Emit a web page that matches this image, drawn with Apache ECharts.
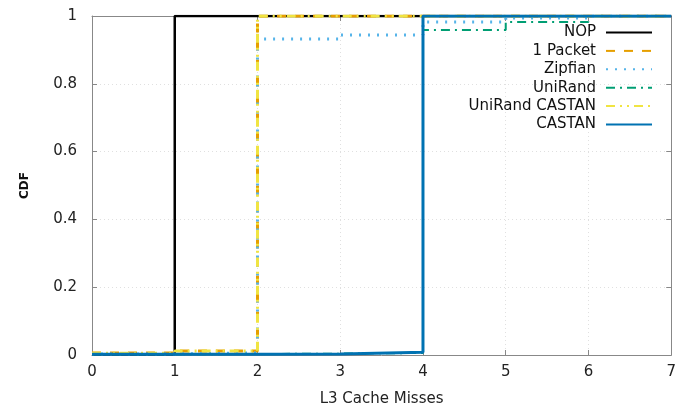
<!DOCTYPE html>
<html>
<head>
<meta charset="utf-8">
<script src="https://cdn.jsdelivr.net/npm/echarts@6/dist/echarts.min.js"></script>
<style>html,body{margin:0;padding:0;background:#fff}#c{width:679px;height:413px}</style>
</head>
<body>
<div id="c"></div>
<script>
const xs = [0, 1, 2, 3, 4, 5, 6, 7];
const yTicks = [0, 0.2, 0.4, 0.6, 0.8, 1];
const seriesNames = ['NOP', '1 Packet', 'Zipfian', 'UniRand', 'UniRand CASTAN', 'CASTAN'];
const nop = [0.002, 1, 1, 1, 1, 1, 1, 1];
const onePacket = [0.006, 0.012, 1, 1, 1, 1, 1, 1];
const zipfian = [0.003, 0.006, 0.932, 0.944, 0.982, 0.994, 1, 1];
const uniRand = [0.002, 0.003, 0.004, 0.006, 0.959, 0.982, 1, 1];
const uniRandCastan = [0.005, 0.012, 1, 1, 1, 1, 1, 1];
const castan = [0.002, 0.002, 0.003, 0.008, 1, 1, 1, 1];

const values = [nop, onePacket, zipfian, uniRand, uniRandCastan, castan];
const colors = ['#000000', '#e69f00', '#56b4e9', '#009e73', '#f0e442', '#0072b2'];
const dashes = ['solid', [9, 9], [2, 7], [9, 5, 2, 5], [9, 5, 2, 5, 2, 5], 'solid'];
const widths = [2.5, 3, 3, 2, 3, 3];

const font = 'DejaVu Sans';
const chart = echarts.init(document.getElementById('c'));
chart.setOption({
  animation: false,
  textStyle: { fontFamily: font },
  grid: { left: 92, right: 5, top: 16, bottom: 58 },
  legend: {
    orient: 'vertical', right: 21, top: 20, align: 'right',
    itemWidth: 46, itemHeight: 14, itemGap: 3.4,
    itemStyle: { opacity: 0 },
    textStyle: { fontSize: 15, color: '#111', fontFamily: font, padding: [0, 5, 0, 0] },
    data: seriesNames
  },
  xAxis: [{
    type: 'value', min: 0, max: 7, interval: 1,
    name: 'L3 Cache Misses', nameLocation: 'middle', nameGap: 37,
    nameTextStyle: { fontSize: 15, color: '#222' },
    axisLine: { show: true, lineStyle: { color: '#888' } },
    axisTick: { inside: true, length: 5, lineStyle: { color: '#888' } },
    axisLabel: { fontSize: 15, color: '#222', margin: 10 },
    splitLine: { show: true, lineStyle: { color: '#e0e0e0', type: [1, 3] } }
  }, {
    type: 'value', min: 0, max: 7, interval: 1, position: 'top',
    axisLine: { show: true, onZero: false, lineStyle: { color: '#888' } },
    axisTick: { inside: true, length: 5, lineStyle: { color: '#888' } },
    axisLabel: { show: false }, splitLine: { show: false }
  }],
  yAxis: [{
    type: 'value', min: 0, max: 1, interval: 0.2,
    name: 'CDF', nameLocation: 'middle', nameGap: 61, nameRotate: 90,
    nameTextStyle: { fontSize: 12, color: '#111', fontWeight: 'bold' },
    axisLine: { show: true, lineStyle: { color: '#888' } },
    axisTick: { inside: true, length: 5, lineStyle: { color: '#888' } },
    axisLabel: { fontSize: 15, color: '#222', margin: 15 },
    splitLine: { show: true, lineStyle: { color: '#e0e0e0', type: [1, 3] } }
  }, {
    type: 'value', min: 0, max: 1, interval: 0.2, position: 'right',
    axisLine: { show: true, onZero: false, lineStyle: { color: '#888' } },
    axisTick: { inside: true, length: 5, lineStyle: { color: '#888' } },
    axisLabel: { show: false }, splitLine: { show: false }
  }],
  series: seriesNames.map((n, i) => ({
    name: n, type: 'line', step: 'end', showSymbol: false, symbol: 'none',
    xAxisIndex: 0, yAxisIndex: 0,
    data: xs.map((x, j) => [x, values[i][j]]),
    lineStyle: { color: colors[i], width: widths[i], type: dashes[i] },
    itemStyle: { color: colors[i] },
    z: 2 + i
  }))
});
</script>
</body>
</html>
